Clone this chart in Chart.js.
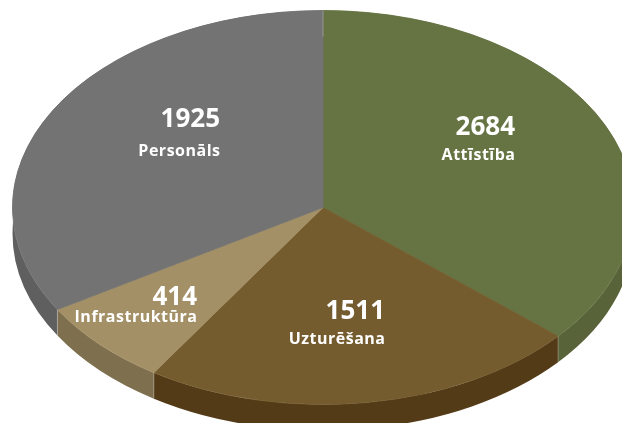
<!DOCTYPE html>
<html lang="lv">
<head>
<meta charset="UTF-8" />
<title>Pie</title>
<script src="https://cdn.jsdelivr.net/npm/chart.js@4"></script>
<style>
    html, body { margin: 0; padding: 0; background: #fff; overflow: hidden; }
    canvas { display: block; }
</style>
</head>
<body>
<canvas id="pie" width="622" height="423"></canvas>
<script>
const categories = ['Attīstība', 'Uzturēšana', 'Infrastruktūra', 'Personāls'];
// the numbers printed on the slices
const values = [2684, 1511, 414, 1925];
// the slices in the picture are not quite proportional to the printed numbers,
// so the drawn size (degrees) is read off the picture separately
const sliceDegrees = [130.8, 82.2, 25.8, 121.2];

const topColors = ['#667443', '#755c2e', '#a39066', '#737373'];
const sideColors = ['#59633a', '#543b18', '#7e6f4e', '#5f5f5f'];
// right edge and baselines of the two text lines on each slice
const labelPos = [
    { x: 515, num: 135, name: 160 },
    { x: 385, num: 319, name: 344 },
    { x: 197, num: 305, name: 322 },
    { x: 220, num: 127, name: 156 }
];

const center = { x: 323, y: 207.5 };
const squash = 197 / 310.5;
const depth = 26;

function arcsOf(chart) {
    return chart.getDatasetMeta(0).data;
}

Chart.register({
    id: 'tiltedPie',
    beforeDatasetsDraw(chart) {
        const ctx = chart.ctx;
        // rim of the disc, drawn first so the top face covers the back half
        arcsOf(chart).forEach((arc, i) => {
            const rx = arc.outerRadius, ry = rx * squash;
            ctx.beginPath();
            ctx.ellipse(center.x, center.y, rx, ry, 0, arc.startAngle, arc.endAngle);
            ctx.ellipse(center.x, center.y + depth, rx, ry, 0, arc.endAngle, arc.startAngle, true);
            ctx.closePath();
            ctx.fillStyle = sideColors[i];
            ctx.fill();
        });
        const first = arcsOf(chart)[0];
        ctx.save();
        ctx.translate(center.x, center.y);
        ctx.scale(1, squash);
        ctx.translate(-first.x, -first.y);
    },
    afterDatasetsDraw(chart) {
        const ctx = chart.ctx;
        ctx.restore();
        // pale seams where the slices meet on the rim
        ctx.strokeStyle = 'rgba(255,255,255,0.25)';
        ctx.lineWidth = 1;
        arcsOf(chart).forEach(arc => {
            const x = center.x + arc.outerRadius * Math.cos(arc.startAngle);
            const y = center.y + arc.outerRadius * squash * Math.sin(arc.startAngle);
            ctx.beginPath();
            ctx.moveTo(x, y);
            ctx.lineTo(x, y + depth);
            ctx.stroke();
        });
        // labels
        ctx.fillStyle = '#fff';
        ctx.textAlign = 'right';
        labelPos.forEach((p, i) => {
            ctx.letterSpacing = '0px';
            ctx.font = 'bold 26px "Open Sans"';
            ctx.fillText(String(values[i]), p.x, p.num);
            ctx.letterSpacing = '0.5px';
            ctx.font = 'bold 16px "Open Sans"';
            ctx.fillText(categories[i], p.x + 0.5, p.name);
        });
    }
});

new Chart(document.getElementById('pie'), {
    type: 'pie',
    data: {
        labels: categories,
        datasets: [{
            data: sliceDegrees,
            backgroundColor: topColors,
            borderColor: topColors,
            borderWidth: 1
        }]
    },
    options: {
        responsive: false,
        animation: false,
        radius: 310.5,
        plugins: {
            legend: { display: false },
            tooltip: { enabled: false }
        }
    }
});
</script>
</body>
</html>
